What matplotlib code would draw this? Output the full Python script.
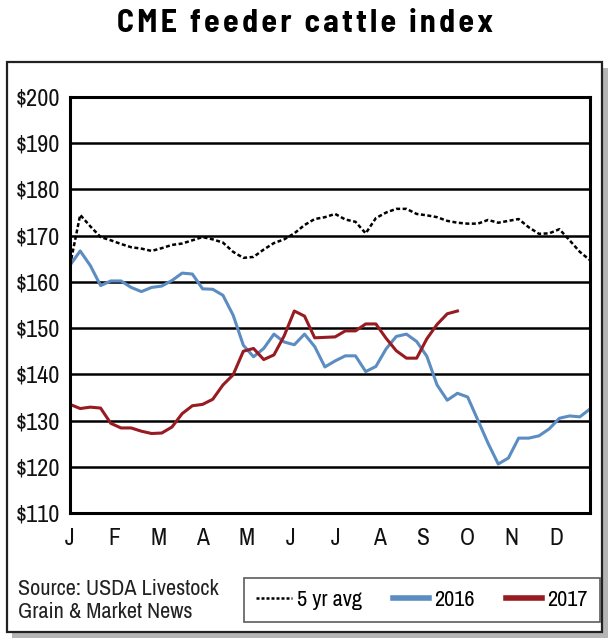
import matplotlib.pyplot as plt
import numpy as np
from matplotlib.lines import Line2D
from matplotlib.patches import Rectangle

plt.rcParams['font.family'] = ['Archivo Narrow', 'Liberation Sans Narrow', 'DejaVu Sans']

# weekly values, week 0 = first week of January
avg5 = [163.6, 174.5, 172.0, 169.7, 169.0, 168.2, 167.5, 167.2, 166.7, 167.3,
        168.0, 168.3, 169.0, 169.7, 169.2, 168.5, 166.5, 165.2, 165.4, 167.0,
        168.4, 169.2, 170.5, 172.3, 173.6, 174.0, 174.7, 173.5, 173.0, 170.5,
        173.8, 175.0, 175.8, 175.8, 174.7, 174.4, 174.0, 173.2, 172.8, 172.6,
        172.6, 173.4, 172.8, 173.2, 173.6, 171.8, 170.4, 170.5, 171.4, 169.0,
        166.5, 164.7]
y2016 = [163.6, 166.7, 163.5, 159.2, 160.2, 160.2, 158.8, 157.9, 158.8, 159.1,
         160.3, 161.9, 161.7, 158.5, 158.4, 157.1, 152.8, 146.3, 143.8, 145.6,
         148.7, 147.0, 146.4, 148.7, 146.0, 141.6, 142.9, 144.0, 144.0, 140.6,
         141.7, 145.5, 148.2, 148.7, 147.1, 143.9, 137.7, 134.4, 135.9, 135.1,
         130.1, 125.1, 120.6, 121.9, 126.2, 126.2, 126.7, 128.2, 130.5, 131.0,
         130.8, 132.5]
y2017 = [133.5, 132.6, 132.9, 132.7, 129.4, 128.4, 128.4, 127.7, 127.2, 127.3,
         128.6, 131.5, 133.2, 133.5, 134.6, 137.7, 139.9, 145.0, 145.6, 143.2,
         144.2, 148.3, 153.7, 152.6, 147.9, 148.0, 148.1, 149.4, 149.4, 150.9,
         150.9, 147.8, 145.1, 143.5, 143.5, 147.7, 150.8, 153.1, 153.7]
months = ['J', 'F', 'M', 'A', 'M', 'J', 'J', 'A', 'S', 'O', 'N', 'D']
yticks = np.arange(110, 201, 10)
title = 'CME feeder cattle index'

c2016 = '#5b8cc2'
c2017 = '#971b20'

fig = plt.figure(figsize=(6.1, 6.44), dpi=100)

# outer frame with grey shadow
fig.patches.append(Rectangle((12 / 610, 1 - 638 / 644), 596 / 610, 570 / 644,
                             transform=fig.transFigure, facecolor='#b5b5b5',
                             edgecolor='none', zorder=0))
fig.patches.append(Rectangle((7 / 610, 1 - 632 / 644), 595 / 610, 570 / 644,
                             transform=fig.transFigure, facecolor='white',
                             edgecolor='#222222', lw=1.6, zorder=1))

# spaced-out title letters
fig.text(0.5, 1 - 24 / 644, '\u200a'.join(title), ha='center', va='center',
         fontsize=23, fontweight='bold',
         family=['Barlow Semi Condensed', 'DejaVu Sans'])

ax = fig.add_axes([70 / 610, 1 - 513 / 644, 520 / 610, 416 / 644])
ax.set_zorder(2)

ax.plot(np.arange(len(y2016)), y2016, color=c2016, lw=2.2)
ax.plot(np.arange(len(y2017)), y2017, color=c2017, lw=2.2)
ax.plot(np.arange(len(avg5)), avg5, color='black', lw=1.8, dashes=(1.6, 1.0))

ax.set_xlim(0, 51)
ax.set_ylim(110, 200)
ax.set_yticks(yticks)
ax.set_yticklabels(['${}'.format(v) for v in yticks], fontsize=17.5,
                   color='#111111')
ax.set_xticks(np.arange(12) * 52 / 12)
ax.set_xticklabels(months, fontsize=17, color='#111111')
ax.tick_params(length=0, pad=7)
ax.tick_params(axis='x', pad=11)
ax.grid(axis='y', color='black', lw=1.8)
ax.set_axisbelow(True)
for s in ax.spines.values():
    s.set_linewidth(2.2)

fig.text(18 / 610, 1 - 589 / 644, 'Source: USDA Livestock', fontsize=16,
         va='center', color='#222222')
fig.text(18 / 610, 1 - 612 / 644, 'Grain & Market News', fontsize=16,
         va='center', color='#222222')

handles = [
    Line2D([], [], color='black', lw=1.8, dashes=(1.2, 0.8)),
    Line2D([], [], color=c2016, lw=4),
    Line2D([], [], color=c2017, lw=4),
]
leg = fig.legend(handles, ['5 yr avg', '2016', '2017'], ncol=3,
                 loc='center', bbox_to_anchor=(422 / 610, 1 - 600 / 644),
                 fontsize=16, frameon=True, fancybox=False,
                 handlelength=1.6, handletextpad=0.25, columnspacing=1.4,
                 borderpad=0.55)
leg.get_frame().set_edgecolor('#333333')
leg.get_frame().set_linewidth(1.2)
leg.set_zorder(3)

fig.savefig('out.png', dpi=100)
